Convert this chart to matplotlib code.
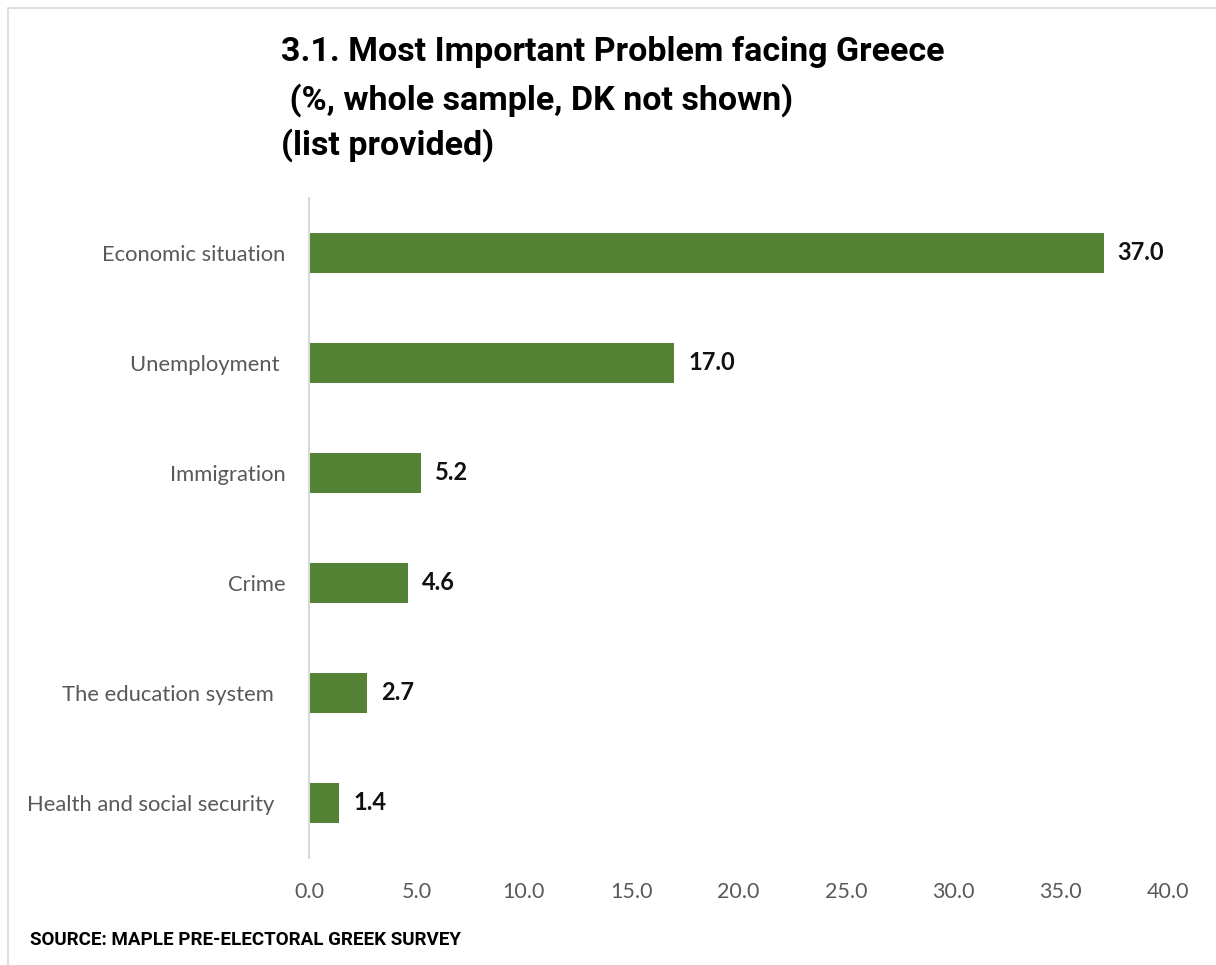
import matplotlib.pyplot as plt
from matplotlib.patches import Rectangle

# data
categories = ["Economic situation", "Unemployment ", "Immigration", "Crime",
              "The education system  ", "Health and social security  "]
values = [37.0, 17.0, 5.2, 4.6, 2.7, 1.4]
xticks = [0, 5, 10, 15, 20, 25, 30, 35, 40]

BAR = "#548235"
GREY = "#595959"
TITLE_FONT = "Roboto"

fig = plt.figure(figsize=(12.16, 9.65), dpi=100)
ax = fig.add_axes([309/1216, 1-858/965, (1168-309)/1216, (858-198)/965])

ypos = list(range(len(categories)))
ax.barh(ypos, values, height=0.36, color=BAR)
ax.set_ylim(len(categories)-0.5, -0.5)
ax.set_xlim(0, 40)

ax.set_yticks(ypos)
ax.set_yticklabels(categories, fontsize=15.8, color=GREY, family="Lato")
ax.set_xticks(xticks)
ax.set_xticklabels(["%.1f" % v for v in xticks], fontsize=15.5, color=GREY, family="Lato")
ax.tick_params(axis="both", length=0)
ax.tick_params(axis="y", pad=17)
ax.tick_params(axis="x", pad=17)

for s in ["top", "right", "bottom"]:
    ax.spines[s].set_visible(False)
ax.spines["left"].set_color("#d9d9d9")
ax.spines["left"].set_linewidth(1.5)

for y, v in zip(ypos, values):
    ax.text(v + 0.65, y, "%.1f" % v, va="center", ha="left",
            fontsize=17, fontweight="bold", color="#111111", family="Lato")

# title
title_lines = ["3.1. Most Important Problem facing Greece",
               " (%, whole sample, DK not shown)",
               "(list provided)"]
for ypx, line in zip([52, 100, 145], title_lines):
    fig.text(281/1216, 1-ypx/965, line, fontsize=24.5, fontweight="bold",
             family=TITLE_FONT, va="center")

fig.text(30/1216, 1-940/965, "SOURCE: MAPLE PRE-ELECTORAL GREEK SURVEY",
         fontsize=13.5, fontweight="bold", family=TITLE_FONT, va="center")

# outer frame
fig.patches.append(Rectangle((8/1216, -0.01), 1.1, 1-8/965 + 0.01, transform=fig.transFigure,
                             fill=False, edgecolor="#d9d9d9", linewidth=1.2))

fig.savefig("out.png", dpi=100)
